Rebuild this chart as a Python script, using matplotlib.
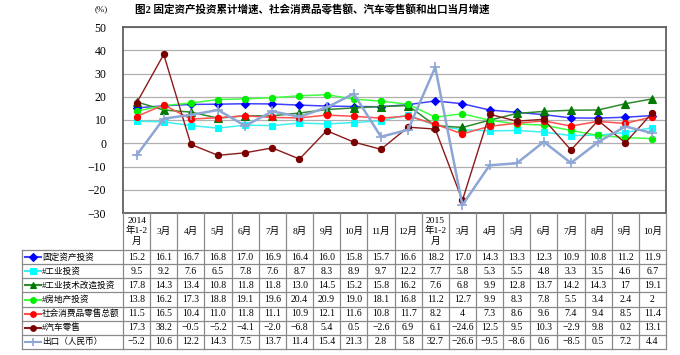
import matplotlib.pyplot as plt
import numpy as np

plt.rcParams['font.family'] = ['Liberation Serif', 'Noto Sans CJK SC']
plt.rcParams['axes.unicode_minus'] = True

# column headers of the table / x categories
months = ['2014\n年1-2\n月', '3月', '4月', '5月', '6月', '7月', '8月', '9月', '10月',
          '11月', '12月', '2015\n年1-2\n月', '3月', '4月', '5月', '6月', '7月', '8月',
          '9月', '10月']

# series values (%), written as shown in the table
fixed = [15.2, 16.1, 16.7, 16.8, 17.0, 16.9, 16.4, 16.0, 15.8, 15.7, 16.6, 18.2,
         17.0, 14.3, 13.3, 12.3, 10.9, 10.8, 11.2, 11.9]
industry = [9.5, 9.2, 7.6, 6.5, 7.8, 7.6, 8.7, 8.3, 8.9, 9.7, 12.2, 7.7,
            5.8, 5.3, 5.5, 4.8, 3.3, 3.5, 4.6, 6.7]
tech = [17.8, 14.3, 13.4, 10.8, 11.8, 11.8, 13.0, 14.5, 15.2, 15.8, 16.2, 7.6,
        6.8, 9.9, 12.8, 13.7, 14.2, 14.3, 17, 19.1]
estate = [13.8, 16.2, 17.3, 18.8, 19.1, 19.6, 20.4, 20.9, 19.0, 18.1, 16.8, 11.2,
          12.7, 9.9, 8.3, 7.8, 5.5, 3.4, 2.4, 2]
retail = [11.5, 16.5, 10.4, 11.0, 11.8, 11.1, 10.9, 12.1, 11.6, 10.8, 11.7, 8.2,
          4, 7.3, 8.6, 9.6, 7.4, 9.4, 8.5, 11.4]
auto = [17.3, 38.2, -0.5, -5.2, -4.1, -2.0, -6.8, 5.4, 0.5, -2.6, 6.9, 6.1,
        -24.6, 12.5, 9.5, 10.3, -2.9, 9.8, 0.2, 13.1]
export = [-5.2, 10.6, 12.2, 14.3, 7.5, 13.7, 11.4, 15.4, 21.3, 2.8, 5.8, 32.7,
          -26.6, -9.5, -8.6, 0.6, -8.5, 0.5, 7.2, 4.4]

# name, data, marker color, line color, marker, marker size, line width
series = [
    ('固定资产投资', fixed, '#0000FF', '#4040FF', 'D', 4.4, 1.1),
    ('#工业投资', industry, '#00FFFF', '#40F0F0', 's', 4.2, 1.1),
    ('#工业技术改造投资', tech, '#007A00', '#2E8B2E', '^', 5.5, 1.1),
    ('#房地产投资', estate, '#00EE00', '#40FF40', 'o', 4.5, 1.1),
    ('社会消费品零售总额', retail, '#FF0000', '#FF5050', 'o', 4.5, 1.1),
    ('#汽车零售', auto, '#7A0000', '#8B1A1A', 'o', 4.5, 1.0),
    ('出口（人民币）', export, '#8EA6D4', '#8EA6D4', '+', 7, 1.8),
]

W, H = 680, 355
fig = plt.figure(figsize=(W / 100, H / 100), dpi=100)

# plot area in pixel terms
px_l, px_r, px_t, px_b = 123, 666, 27, 213
ax = fig.add_axes([px_l / W, 1 - px_b / H, (px_r - px_l) / W, (px_b - px_t) / H])
x = np.arange(len(months))
for name, vals, mc, lc, mk, ms, lw in series:
    ax.plot(x, vals, color=lc, lw=lw, marker=mk, ms=ms, mfc=mc, mec=mc,
            mew=1.2 if mk == '+' else 0.8, zorder=3)
ax.set_xlim(-0.5, len(months) - 0.5)
ax.set_ylim(-30, 50)
ax.set_yticks(range(-30, 51, 10))
ax.set_xticks([])
ax.yaxis.grid(True, color='#B0B0B0', lw=0.9)
ax.set_axisbelow(True)
ax.tick_params(axis='y', length=0, pad=12, labelsize=8.5)
for s in ax.spines.values():
    s.set_color('#606060')
    s.set_linewidth(1.3)

fig.text(95 / W, 1 - 9 / H, '(%)', fontsize=6.5, va='center')
fig.text(135 / W, 1 - 10 / H,
         '图2 固定资产投资累计增速、社会消费品零售额、汽车零售额和出口当月增速',
         fontsize=7.6, fontweight='bold', va='center')

# table below the plot
tb_l, tb_b = 22, 349
head_px = 37
col_px = (px_r - px_l) / len(months)
row_px = (tb_b - px_b - head_px) / len(series)
tax = fig.add_axes([0, 0, 1, 1])
tax.set_xlim(0, W)
tax.set_ylim(H, 0)
tax.axis('off')
gc = '#8A8A8A'
# vertical lines
for k in range(len(months) + 1):
    xx = px_l + k * col_px
    tax.plot([xx, xx], [px_b, tb_b], color=gc, lw=0.9)
tax.plot([tb_l, tb_l], [px_b + head_px, tb_b], color=gc, lw=0.9)
# horizontal lines
for r in range(len(series) + 1):
    yy = px_b + head_px + r * row_px
    tax.plot([tb_l, px_r], [yy, yy], color=gc, lw=0.9)

for k, m in enumerate(months):
    tax.text(px_l + (k + 0.5) * col_px, px_b + head_px / 2, m, ha='center',
             va='center', fontsize=6.8, linespacing=1.25)

for r, (name, vals, mc, lc, mk, ms, lw) in enumerate(series):
    yc = px_b + head_px + (r + 0.5) * row_px
    tax.plot([tb_l + 3, tb_l + 19], [yc, yc], color=lc, lw=1.5)
    tax.plot([tb_l + 11], [yc], marker=mk, ms=ms * 0.9, color=mc,
             mew=1.2 if mk == '+' else 0.8)
    tax.text(tb_l + 20, yc, name, ha='left', va='center', fontsize=6.2)
    for k, v in enumerate(vals):
        tax.text(px_l + (k + 0.5) * col_px, yc, str(v).replace('-', '\u2212'),
                 ha='center', va='center', fontsize=7)

fig.savefig('out.png', dpi=100)
